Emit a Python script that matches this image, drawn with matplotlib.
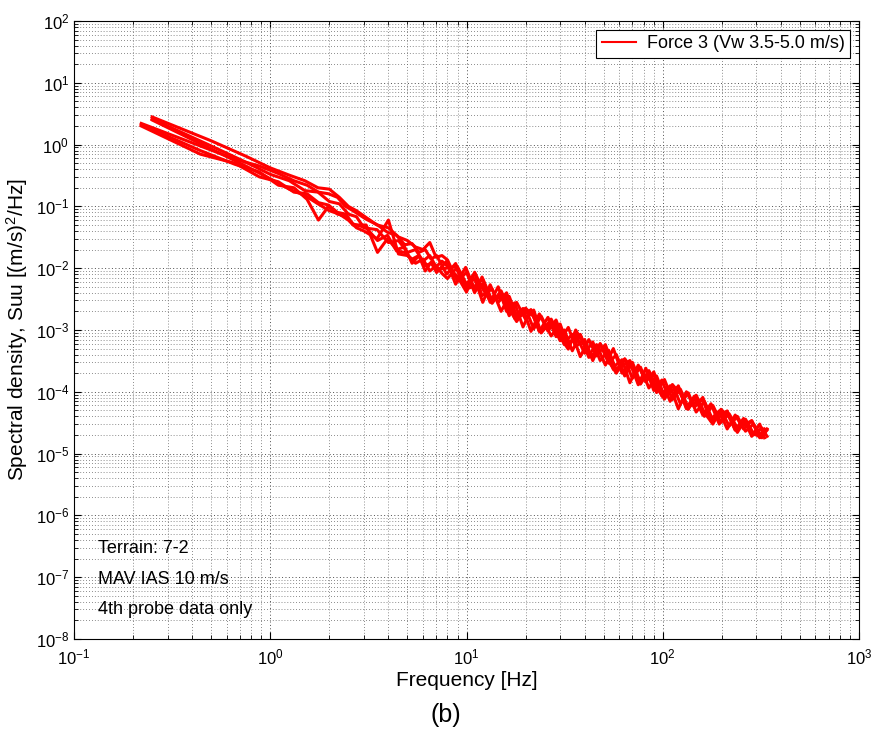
import matplotlib
matplotlib.use("Agg")
import matplotlib.pyplot as plt
from matplotlib.ticker import LogLocator, NullFormatter

plt.rcParams['font.family'] = ['Liberation Sans', 'DejaVu Sans']
plt.rcParams['mathtext.fontset'] = 'custom'
plt.rcParams['mathtext.rm'] = 'Liberation Sans'
plt.rcParams['mathtext.it'] = 'Liberation Sans'

# frequency bins, two record lengths
freq_a = [0.25, 0.5, 0.75, 1.0, 1.25, 1.5, 1.75, 2.0, 2.25, 2.5, 2.75, 3.0, 3.5, 4.0, 4.5,
          5.0, 5.5, 6.0, 6.5, 7.0, 7.5, 8.0, 9.0, 10, 11, 12, 13.5, 15, 16.5, 18, 20, 22,
          24, 27, 30, 33, 36, 40, 44, 48, 53, 58, 64, 70, 77, 85, 93, 102, 112, 123, 135,
          148, 163, 180, 198, 218, 240, 264, 290, 320, 340]
freq_b = [0.22, 0.44, 0.66, 0.88, 1.1, 1.32, 1.54, 1.76, 1.98, 2.2, 2.42, 2.64, 3.08, 3.52,
          3.96, 4.4, 4.84, 5.28, 5.72, 6.16, 6.6, 7.04, 7.92, 8.8, 9.9, 11, 12.1, 13.2, 14.5,
          16, 17.6, 19.4, 21.3, 23.5, 26, 28.6, 31.5, 34.6, 38, 42, 46, 51, 56, 62, 68, 75,
          82, 90, 99, 109, 120, 132, 145, 160, 176, 194, 213, 234, 258, 284, 312, 330]

# Suu [(m/s)^2/Hz]
suu_a1 = [2.8, 1.15, 0.65, 0.42, 0.32, 0.26, 0.2, 0.19, 0.14, 0.1, 0.085, 0.07, 0.05, 0.045,
          0.032, 0.028, 0.022, 0.02, 0.026, 0.015, 0.016,
          0.0136, 0.0061, 0.0086, 0.0040, 0.0072, 0.0030, 0.0037, 0.0017, 0.0028, 0.00148,
          0.0021, 0.0009, 0.00139, 6.7e-4, 1.1e-3, 5.4e-4, 7.0e-4, 3.2e-4, 6.0e-4, 2.9e-4,
          4.0e-4, 1.8e-4, 3.0e-4, 1.42e-4, 2.1e-4, 9.7e-5, 1.58e-4, 7.5e-5, 1.1e-4, 5.5e-5,
          8.2e-5, 4.0e-5, 6.0e-5, 3.2e-5, 4.4e-5, 2.6e-5, 3.4e-5, 2.0e-5, 2.6e-5, 1.9e-5]
suu_a2 = [2.5, 0.85, 0.45, 0.28, 0.19, 0.15, 0.11, 0.085, 0.075, 0.06, 0.045, 0.04, 0.03,
          0.06, 0.017, 0.016, 0.012, 0.014, 0.009, 0.011, 0.0082,
          0.0068, 0.0105, 0.0055, 0.0083, 0.0036, 0.0046, 0.0020, 0.0035, 0.0017, 0.0022,
          0.00104, 0.00168, 8.0e-4, 1.25e-3, 5.3e-4, 8.4e-4, 4.2e-4, 6.4e-4, 3.2e-4, 4.7e-4,
          2.2e-4, 3.4e-4, 1.65e-4, 2.5e-4, 1.15e-4, 1.8e-4, 8.5e-5, 1.3e-4, 6.4e-5, 9.6e-5,
          4.7e-5, 7.0e-5, 3.5e-5, 5.0e-5, 2.8e-5, 4.0e-5, 2.3e-5, 3.0e-5, 1.9e-5, 2.4e-5]
suu_a3 = [2.6, 0.95, 0.52, 0.33, 0.26, 0.18, 0.17, 0.12, 0.11, 0.075, 0.068, 0.045, 0.042,
          0.026, 0.028, 0.018, 0.02, 0.013, 0.016, 0.0105, 0.013,
          0.0107, 0.0073, 0.0041, 0.0086, 0.0048, 0.0027, 0.0043, 0.0022, 0.00137, 0.00226,
          0.00164, 0.0009, 0.0015, 7.6e-4, 4.9e-4, 1.0e-3, 5.6e-4, 3.4e-4, 6.0e-4, 3.1e-4,
          2.0e-4, 3.4e-4, 2.4e-4, 1.33e-4, 2.2e-4, 1.17e-4, 7.6e-5, 1.3e-4, 9.4e-5, 5.2e-5,
          8.8e-5, 4.6e-5, 3.0e-5, 5.2e-5, 3.9e-5, 2.2e-5, 3.6e-5, 2.1e-5, 1.8e-5, 2.5e-5]
suu_b1 = [2.1, 0.8, 0.48, 0.36, 0.22, 0.2, 0.13, 0.06, 0.1, 0.075, 0.07, 0.05, 0.05, 0.018,
          0.03, 0.02, 0.022, 0.012, 0.016, 0.009, 0.0125, 0.0085,
          0.013, 0.0055, 0.0103, 0.0046, 0.0056, 0.0028, 0.005, 0.002, 0.00275, 0.00112,
          0.0021, 0.00095, 0.0016, 0.00078, 0.001, 0.00046, 0.00085, 0.00039, 0.00058,
          0.00027, 0.0005, 0.0002, 0.0003, 0.00013, 0.00024, 1.05e-4, 1.55e-4, 7.0e-5,
          1.25e-4, 5.5e-5, 8.5e-5, 4.2e-5, 6.4e-5, 3.0e-5, 4.6e-5, 2.4e-5, 3.7e-5, 1.9e-5,
          3.0e-5, 1.8e-5]
suu_b2 = [2.2, 0.95, 0.58, 0.45, 0.34, 0.26, 0.22, 0.17, 0.16, 0.14, 0.1, 0.085, 0.062, 0.05,
          0.038, 0.034, 0.024, 0.025, 0.018, 0.02, 0.014, 0.016,
          0.008, 0.0119, 0.005, 0.0068, 0.0028, 0.0054, 0.0028, 0.004, 0.00165, 0.00223,
          0.00095, 0.00182, 0.00096, 0.00145, 0.00062, 0.00085, 0.00037, 0.0007, 0.00038,
          0.00058, 0.00025, 0.00033, 0.00014, 0.00027, 1.45e-4, 2.1e-4, 9.0e-5, 1.25e-4,
          5.3e-5, 1.0e-4, 5.6e-5, 8.1e-5, 3.6e-5, 4.9e-5, 2.5e-5, 4.2e-5, 2.5e-5, 3.4e-5,
          1.9e-5, 2.5e-5]
suu_b3 = [2.0, 0.7, 0.5, 0.3, 0.25, 0.17, 0.16, 0.115, 0.105, 0.08, 0.075, 0.052, 0.045,
          0.028, 0.034, 0.019, 0.018, 0.014, 0.016, 0.011, 0.012, 0.0095,
          0.01, 0.0106, 0.0046, 0.0051, 0.0066, 0.003, 0.0033, 0.0035, 0.00154, 0.00177,
          0.00213, 0.00095, 0.00113, 0.00126, 0.00058, 0.00067, 0.00082, 0.00036, 0.00045,
          0.00051, 0.00023, 0.00026, 0.00032, 0.00014, 1.7e-4, 1.9e-4, 8.5e-5, 1.0e-4,
          1.2e-4, 5.3e-5, 6.6e-5, 7.3e-5, 3.4e-5, 3.9e-5, 4.9e-5, 2.4e-5, 2.9e-5, 3.4e-5,
          1.8e-5, 2.2e-5]

series = [(freq_a, suu_a1), (freq_b, suu_b1), (freq_a, suu_a2),
          (freq_b, suu_b2), (freq_a, suu_a3), (freq_b, suu_b3)]

fig = plt.figure(figsize=(8.76, 7.31), dpi=100)
ax = fig.add_axes([0.0845, 0.1259, 0.8961, 0.8454])

for i, (f, s) in enumerate(series):
    lab = 'Force 3 (Vw 3.5-5.0 m/s)' if i == 0 else None
    ax.plot(f, s, color='red', lw=2.2, label=lab)

ax.set_xscale('log')
ax.set_yscale('log')
ax.set_xlim(0.1, 1000)
ax.set_ylim(1e-8, 1e2)
ax.yaxis.set_major_locator(LogLocator(base=10, numticks=20))
ax.yaxis.set_minor_locator(LogLocator(base=10, subs=range(2, 10), numticks=20))
ax.yaxis.set_minor_formatter(NullFormatter())
ax.xaxis.set_minor_formatter(NullFormatter())

dots = (0, (1, 2.5))
ax.grid(True, which='major', linestyle=dots, color='0.3', lw=0.7)
ax.grid(True, which='minor', linestyle=dots, color='0.4', lw=0.6)
ax.tick_params(which='both', direction='in', top=True, right=True, labelsize=12)
ax.tick_params(which='major', length=5)
ax.tick_params(which='minor', length=3)
ax.tick_params(axis='x', pad=6)

ax.set_xlabel('Frequency [Hz]', fontsize=15, labelpad=3)
ax.set_ylabel('Spectral density, Suu [(m/s)$^2$/Hz]', fontsize=15, labelpad=4)

leg = ax.legend(loc='upper right', fontsize=13, fancybox=False, framealpha=1,
                edgecolor='black', borderaxespad=0.5, handlelength=1.9,
                handletextpad=0.6, borderpad=0.3)
leg.get_frame().set_linewidth(0.8)
leg.get_lines()[0].set_linewidth(1.5)

ax.text(0.03, 0.147, 'Terrain: 7-2', transform=ax.transAxes, fontsize=13, va='center')
ax.text(0.03, 0.097, 'MAV IAS 10 m/s', transform=ax.transAxes, fontsize=13, va='center')
ax.text(0.03, 0.048, '4th probe data only', transform=ax.transAxes, fontsize=13, va='center')

fig.text(0.509, 0.022, '(b)', fontsize=18, ha='center', va='center')

fig.savefig('out.png', dpi=100)
